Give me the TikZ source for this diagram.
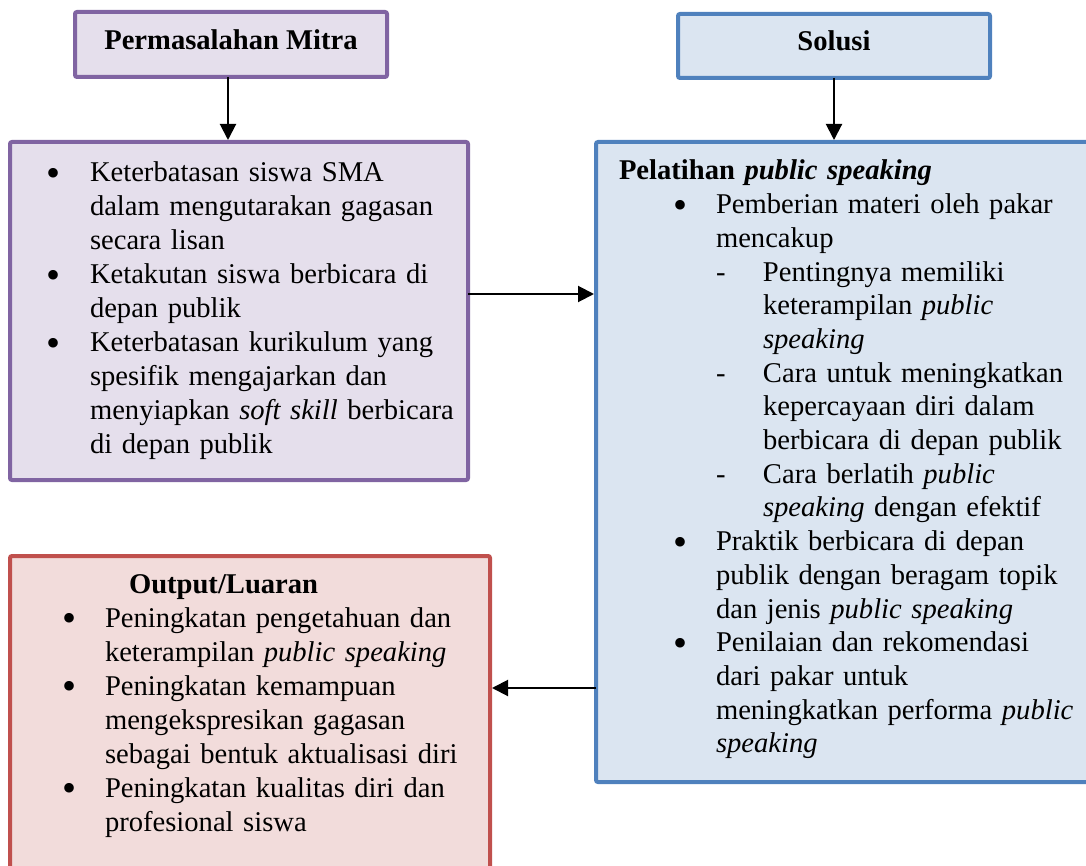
\documentclass[tikz,border=0pt]{standalone}
\usepackage{fontspec}
\setmainfont{Liberation Serif}
\usepackage{xcolor}
\usepackage{array}
\usepackage{graphicx}
\usepackage{tikz}
\usetikzlibrary{arrows.meta,positioning,calc}

\definecolor{ungu}{HTML}{8064A2}
\definecolor{ungumuda}{HTML}{E5DFEC}
\definecolor{biru}{HTML}{4F81BD}
\definecolor{birumuda}{HTML}{DBE5F1}
\definecolor{merah}{HTML}{C0504D}
\definecolor{merahmuda}{HTML}{F2DCDB}

\newcommand{\titik}{\raisebox{-4.5pt}{\scalebox{1.4}{\textbullet}}}

\begin{document}
\begin{tikzpicture}[
    x=1pt, y=-1pt,
    kotak/.style={rectangle, draw, line width=4pt, rounded corners=2pt,
      outer sep=0pt, inner ysep=0pt, anchor=north west,
      font=\fontsize{28.6pt}{34pt}\selectfont},
    judul/.style={minimum width=312pt, inner xsep=0pt, font=\fontsize{28.6pt}{34pt}\selectfont\bfseries},
    masalahbox/.style={kotak, draw=ungu, fill=ungumuda},
    solusibox/.style={kotak, draw=biru, fill=birumuda},
    luaranbox/.style={kotak, draw=merah, fill=merahmuda},
    arr/.style={-{Triangle[length=16pt,width=16pt]}, line width=2pt, shorten >=2pt},
  ]
    \useasboundingbox (0,0) rectangle (1086,866);

    % Nodes
    \node[masalahbox, judul, text height=38pt, text depth=27pt] (judulmasalah) at (75,12) {Permasalahan Mitra};
    \node[solusibox, judul, text height=37pt, text depth=27pt] (judulsolusi) at (678,14) {Solusi};

    \node[masalahbox, inner xsep=36pt, text width=386pt, align=left,
      text height=40pt, text depth=298pt] (masalah) at (10,142) {%
      \begin{tabular}[t]{@{}p{44pt}@{}l@{}}
        \titik & Keterbatasan siswa SMA\\
               & dalam mengutarakan gagasan\\
               & secara lisan\\
        \titik & Ketakutan siswa berbicara di\\
               & depan publik\\
        \titik & Keterbatasan kurikulum yang\\
               & spesifik mengajarkan dan\\
               & menyiapkan \textit{soft skill} berbicara\\
               & di depan publik
      \end{tabular}};

    \node[solusibox, inner xsep=23pt, text width=450pt, align=left,
      text height=38pt, text depth=602pt] (solusi) at (596,142) {%
      \renewcommand{\arraystretch}{0.991}%
      \begin{tabular}[t]{@{}p{54pt}@{}p{43pt}@{}p{47pt}@{}l@{}}
        \multicolumn{4}{@{}l@{}}{\textbf{Pelatihan \textit{public speaking}}}\\
        & \titik & \multicolumn{2}{@{}l@{}}{Pemberian materi oleh pakar}\\
        & & \multicolumn{2}{@{}l@{}}{mencakup}\\
        & & - & Pentingnya memiliki\\
        & & & keterampilan \textit{public}\\
        & & & \textit{speaking}\\
        & & - & Cara untuk meningkatkan\\
        & & & kepercayaan diri dalam\\
        & & & berbicara di depan publik\\
        & & - & Cara berlatih \textit{public}\\
        & & & \textit{speaking} dengan efektif\\
        & \titik & \multicolumn{2}{@{}l@{}}{Praktik berbicara di depan}\\
        & & \multicolumn{2}{@{}l@{}}{publik dengan beragam topik}\\
        & & \multicolumn{2}{@{}l@{}}{dan jenis \textit{public speaking}}\\
        & \titik & \multicolumn{2}{@{}l@{}}{Penilaian dan rekomendasi}\\
        & & \multicolumn{2}{@{}l@{}}{dari pakar untuk}\\
        & & \multicolumn{2}{@{}l@{}}{meningkatkan performa \textit{public}}\\
        & & \multicolumn{2}{@{}l@{}}{\textit{speaking}}
      \end{tabular}};

    \node[luaranbox, inner xsep=52pt, text width=376pt, align=left,
      text height=37pt, text depth=287pt] (luaran) at (10,556) {%
      \begin{tabular}[t]{@{}p{43pt}@{}l@{}}
        \multicolumn{2}{@{}l@{}}{\hspace*{67pt}\textbf{Output/Luaran}}\\
        \titik & Peningkatan pengetahuan dan\\
               & keterampilan \textit{public speaking}\\
        \titik & Peningkatan kemampuan\\
               & mengekspresikan gagasan\\
               & sebagai bentuk aktualisasi diri\\
        \titik & Peningkatan kualitas diri dan\\
               & profesional siswa
      \end{tabular}};

    % Arrows
    \draw[arr] ([xshift=-3pt]judulmasalah.south) -- ([xshift=-3pt]judulmasalah.south |- masalah.north);
    \draw[arr] (judulsolusi.south) -- (judulsolusi.south |- solusi.north);
    \draw[arr] ([yshift=17pt]masalah.east) -- ([yshift=17pt]masalah.east -| solusi.west);
    \draw[arr] ([yshift=-226pt]solusi.west) -- ([yshift=-226pt]solusi.west -| luaran.east);
  \end{tikzpicture}
\end{document}
